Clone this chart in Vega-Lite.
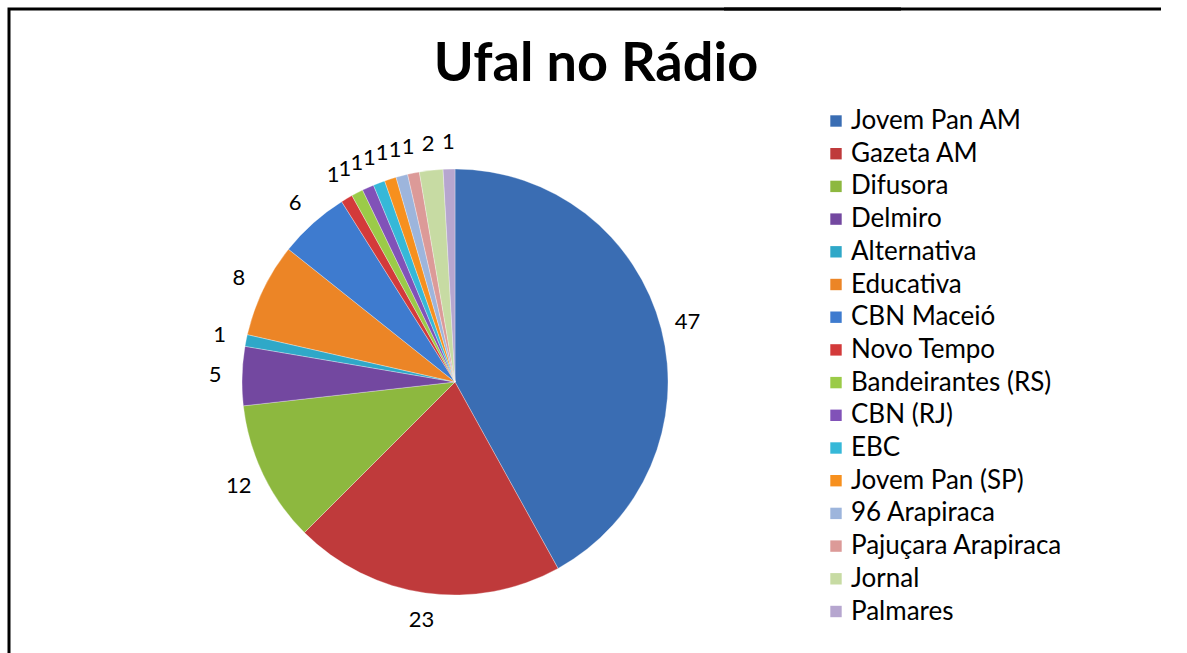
{
  "$schema": "https://vega.github.io/schema/vega-lite/v6.json",
  "autosize": "none",
  "padding": {"left": 9, "top": 9, "right": 286, "bottom": 0},
  "width": 892,
  "height": 746,
  "background": "white",
  "view": {"stroke": "#000000", "strokeWidth": 3, "strokeDash": [892, 1638, 746, 1]},
  "config": {
    "legend": {"strokeColor": "#000000", "strokeWidth": 3, "strokeDash": [437, 3000]}
  },
  "title": {
    "text": "Ufal no Rádio",
    "font": "Lato",
    "fontWeight": "bold",
    "fontSize": 54,
    "color": "black",
    "anchor": "middle",
    "dx": 141,
    "offset": -84
  },
  "data": {
    "values": [
      {"i": 1, "station": "Jovem Pan AM", "n": 47},
      {"i": 2, "station": "Gazeta AM", "n": 23},
      {"i": 3, "station": "Difusora", "n": 12},
      {"i": 4, "station": "Delmiro", "n": 5},
      {"i": 5, "station": "Alternativa", "n": 1},
      {"i": 6, "station": "Educativa", "n": 8},
      {"i": 7, "station": "CBN Maceió", "n": 6},
      {"i": 8, "station": "Novo Tempo", "n": 1},
      {"i": 9, "station": "Bandeirantes (RS)", "n": 1},
      {"i": 10, "station": "CBN (RJ)", "n": 1},
      {"i": 11, "station": "EBC", "n": 1},
      {"i": 12, "station": "Jovem Pan (SP)", "n": 1},
      {"i": 13, "station": "96 Arapiraca", "n": 1},
      {"i": 14, "station": "Pajuçara Arapiraca", "n": 1},
      {"i": 15, "station": "Jornal", "n": 2},
      {"i": 16, "station": "Palmares", "n": 1}
    ]
  },
  "encoding": {
    "theta": {"field": "n", "type": "quantitative", "stack": true},
    "order": {"field": "i", "type": "quantitative"}
  },
  "layer": [
    {
      "mark": {"type": "arc", "outerRadius": 213, "stroke": "#ffffff", "strokeWidth": 0.5, "strokeOpacity": 0.6},
      "encoding": {
        "color": {
          "field": "station",
          "type": "nominal",
          "sort": null,
          "scale": {
            "domain": ["Jovem Pan AM", "Gazeta AM", "Difusora", "Delmiro", "Alternativa", "Educativa", "CBN Maceió", "Novo Tempo", "Bandeirantes (RS)", "CBN (RJ)", "EBC", "Jovem Pan (SP)", "96 Arapiraca", "Pajuçara Arapiraca", "Jornal", "Palmares"],
            "range": ["#3A6DB3", "#BF3A3B", "#8DB83F", "#7348A0", "#2FA8C8", "#EC8526", "#3E7BCF", "#D33A3A", "#9BCB48", "#8152B8", "#36B8D8", "#F7901E", "#9DB5DC", "#DC9A98", "#C7DBA3", "#B6A6CF"]
          },
          "legend": {
            "title": null,
            "orient": "none",
            "legendX": 715,
            "legendY": 0,
            "padding": 99,
            "symbolType": "square",
            "symbolSize": 130,
            "symbolStrokeWidth": 0,
            "labelFont": "Lato",
            "labelFontSize": 26,
            "labelColor": "black",
            "labelLimit": 400,
            "rowPadding": 6.7,
            "labelOffset": 2
          }
        }
      }
    },
    {
      "mark": {"type": "text", "radius": 240, "font": "Lato", "fontSize": 22, "color": "black"},
      "encoding": {
        "detail": {"field": "station", "type": "nominal"},
        "text": {"field": "n", "type": "quantitative"}
      }
    }
  ]
}
